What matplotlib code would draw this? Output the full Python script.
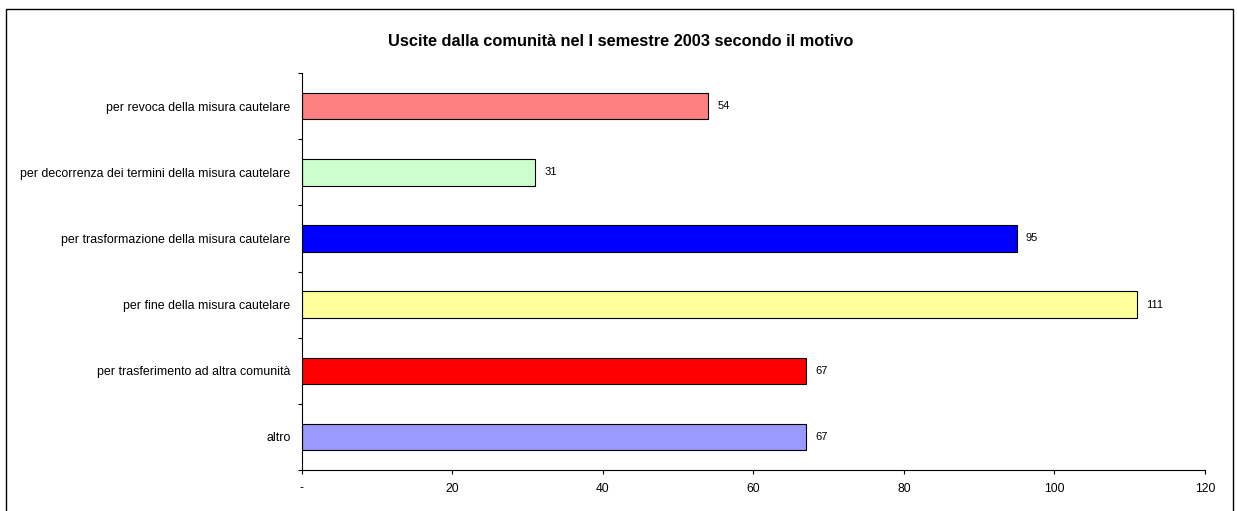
import matplotlib
matplotlib.use("Agg")
import matplotlib.pyplot as plt
import matplotlib.patches as patches

plt.rcParams['font.family'] = ['Liberation Sans', 'DejaVu Sans']

categories = [
    'per revoca della misura cautelare',
    'per decorrenza dei termini della misura cautelare',
    'per trasformazione della misura cautelare',
    'per fine della misura cautelare',
    'per trasferimento ad altra comunità',
    'altro',
]
values = [54, 31, 95, 111, 67, 67]
colors = ['#FF8080', '#CCFFCC', '#0000FF', '#FFFF99', '#FF0000', '#9999FF']
x_ticks = [0, 20, 40, 60, 80, 100, 120]
x_labels = ['-', '20', '40', '60', '80', '100', '120']
title = 'Uscite dalla comunità nel I semestre 2003 secondo il motivo'

fig = plt.figure(figsize=(12.37, 5.11), dpi=100)
ax = fig.add_axes([0.2439, 0.0802, 0.7302, 0.7769])

n = len(categories)
pos = [n - 1 - i for i in range(n)]  # first category on top
ax.barh(pos, values, height=0.4, color=colors, edgecolor='black', linewidth=0.8)
for p, v in zip(pos, values):
    ax.text(v + 1.2, p, str(v), va='center', ha='left', fontsize=8)

ax.set_xlim(0, 120)
ax.set_ylim(-0.5, n - 0.5)
ax.set_xticks(x_ticks)
ax.set_xticklabels(x_labels, fontsize=8.7)

# category boundaries get tick marks, labels sit at the centres
ax.set_yticks([i - 0.5 for i in range(n + 1)])
ax.set_yticklabels([])
ax.set_yticks(pos, minor=True)
ax.set_yticklabels(categories, minor=True, fontsize=8.9)
ax.tick_params(axis='y', which='minor', length=0, pad=8)
ax.tick_params(axis='y', which='major', length=3, width=0.8)
ax.tick_params(axis='x', length=3, width=0.8, pad=6)

for s in ['top', 'right']:
    ax.spines[s].set_visible(False)
for s in ['left', 'bottom']:
    ax.spines[s].set_linewidth(0.8)

fig.text(0.5015, 0.918, title, ha='center', va='center', fontsize=11.8, fontweight='bold')

border = patches.Rectangle((6 / 1237, -0.02), 1227 / 1237, 1.02 - 9 / 511,
                           transform=fig.transFigure, fill=False,
                           edgecolor='black', linewidth=1.0, clip_on=False)
fig.patches.append(border)

fig.savefig('out.png', dpi=100)
